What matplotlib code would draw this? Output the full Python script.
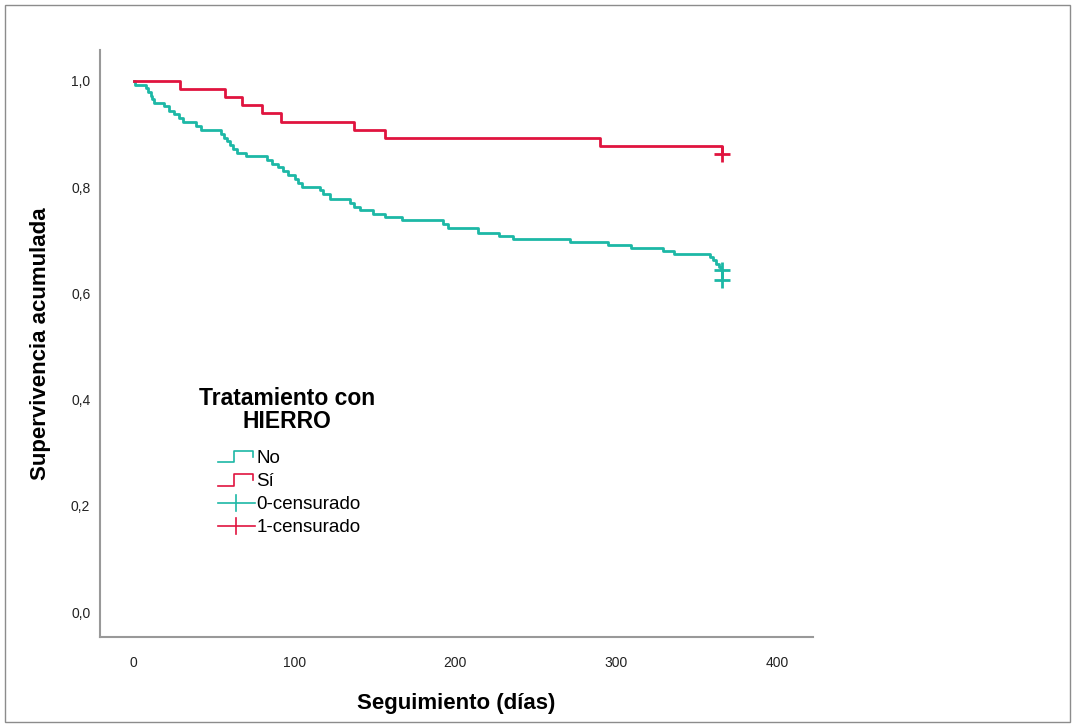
import matplotlib
matplotlib.use("Agg")
import matplotlib.pyplot as plt
from matplotlib.legend_handler import HandlerBase
from matplotlib.lines import Line2D
from matplotlib.patches import Rectangle

plt.rcParams['font.family'] = ['Liberation Sans', 'DejaVu Sans']

# Curva "No" (sin hierro)
no_days = [0, 1, 7.5, 9, 10.5, 11.5, 12.5, 19, 22, 25, 28, 30.5, 39, 42, 54.5, 56, 58, 60, 62, 64, 70,
           82.6, 86, 89.5, 92.7, 96, 100, 102, 104.4, 115.7, 118, 122, 134.4, 137, 140.6, 148.7, 156.2,
           166.6, 192.5, 195.4, 214.3, 227.3, 236, 271.3, 295.1, 309, 329.4, 336, 358.4, 360, 362, 364,
           365, 366]
no_surv = [1.000, 0.992, 0.986, 0.979, 0.972, 0.965, 0.958, 0.952, 0.944, 0.937, 0.930, 0.923, 0.915,
           0.908, 0.900, 0.893, 0.886, 0.879, 0.872, 0.865, 0.858, 0.851, 0.844, 0.837, 0.830, 0.823,
           0.816, 0.808, 0.801, 0.794, 0.787, 0.777, 0.770, 0.763, 0.757, 0.749, 0.743, 0.738, 0.730,
           0.722, 0.714, 0.708, 0.702, 0.697, 0.691, 0.685, 0.679, 0.674, 0.668, 0.662, 0.656, 0.650,
           0.644, 0.625]
no_cens_days = [366, 366]
no_cens_surv = [0.644, 0.625]

# Curva "Sí" (con hierro)
si_days = [0, 28.6, 57, 67.6, 80, 91.5, 137, 156, 290, 366]
si_surv = [1.000, 0.985, 0.970, 0.954, 0.939, 0.923, 0.908, 0.893, 0.878, 0.863]
si_cens_days = [366]
si_cens_surv = [0.863]

xticks = [0, 100, 200, 300, 400]
yticks = [0.0, 0.2, 0.4, 0.6, 0.8, 1.0]
ytick_labels = ['0,0', '0,2', '0,4', '0,6', '0,8', '1,0']
leg_labels = ['No', 'Sí', '0-censurado', '1-censurado']

col_no = '#1DB8A6'
col_si = '#E0143F'


class StepHandler(HandlerBase):
    def create_artists(self, legend, orig_handle, xdescent, ydescent, width, height, fontsize, trans):
        x0, y0 = -xdescent, -ydescent
        xs = [x0, x0 + 0.45 * width, x0 + 0.45 * width, x0 + 0.95 * width, x0 + 0.95 * width]
        ys = [y0 + 0.05 * height, y0 + 0.05 * height, y0 + 0.95 * height, y0 + 0.95 * height, y0 + 0.45 * height]
        ln = Line2D(xs, ys, color=orig_handle.get_color(), lw=1.2, transform=trans)
        return [ln]


class PlusHandler(HandlerBase):
    def create_artists(self, legend, orig_handle, xdescent, ydescent, width, height, fontsize, trans):
        x0, y0 = -xdescent, -ydescent
        h = Line2D([x0, x0 + width], [y0 + 0.5 * height] * 2, color=orig_handle.get_color(), lw=1.2, transform=trans)
        v = Line2D([x0 + 0.5 * width] * 2, [y0 - 0.1 * height, y0 + 1.1 * height], color=orig_handle.get_color(),
                   lw=1.2, transform=trans)
        return [h, v]


fig = plt.figure(figsize=(10.76, 7.27), dpi=100)
ax = fig.add_axes([100 / 1076, 90 / 727, 713 / 1076, 587 / 727])

ax.plot(no_days, no_surv, drawstyle='steps-post', color=col_no, lw=2)
ax.plot(si_days, si_surv, drawstyle='steps-post', color=col_si, lw=2)
ax.plot(no_cens_days, no_cens_surv, '+', color=col_no, ms=11, mew=2)
ax.plot(si_cens_days, si_cens_surv, '+', color=col_si, ms=11, mew=2)

ax.set_xlim(-21, 422.5)
ax.set_ylim(-0.047, 1.058)
ax.set_xticks(xticks)
ax.set_yticks(yticks)
ax.set_yticklabels(ytick_labels)
ax.tick_params(axis='both', length=0, labelsize=10, colors='#222222')
ax.tick_params(axis='x', pad=14)
ax.tick_params(axis='y', pad=7)
for s in ['top', 'right']:
    ax.spines[s].set_visible(False)
for s in ['left', 'bottom']:
    ax.spines[s].set_color('#999999')
    ax.spines[s].set_linewidth(1.5)

ax.set_xlabel('Seguimiento (días)', fontsize=16, fontweight='bold', labelpad=16)
ax.set_ylabel('Supervivencia acumulada', fontsize=16, fontweight='bold', labelpad=14)

# Leyenda: título aparte para controlar el espacio
fig.text(287 / 1076, 1 - 410 / 727, 'Tratamiento con\nHIERRO', ha='center', va='center',
         multialignment='center', fontsize=16.5, fontweight='bold', linespacing=1.0)

h_no = Line2D([], [], color=col_no)
h_si = Line2D([], [], color=col_si)
h_c0 = Line2D([], [], color=col_no)
h_c1 = Line2D([], [], color=col_si)
leg = ax.legend([h_no, h_si, h_c0, h_c1], leg_labels,
                handler_map={h_no: StepHandler(), h_si: StepHandler(), h_c0: PlusHandler(), h_c1: PlusHandler()},
                fontsize=13.5, frameon=False, loc='upper left', borderpad=0, borderaxespad=0,
                bbox_to_anchor=(218 / 1076, 1 - 450 / 727), bbox_transform=fig.transFigure,
                handlelength=1.95, handletextpad=0.1, labelspacing=0.32, handleheight=0.7)

fig.patches.append(Rectangle((5 / 1076, 5 / 727), 1065 / 1076, 717 / 727, transform=fig.transFigure,
                             fill=False, edgecolor='#8c8c8c', lw=1))

fig.savefig('out.png', dpi=100)
